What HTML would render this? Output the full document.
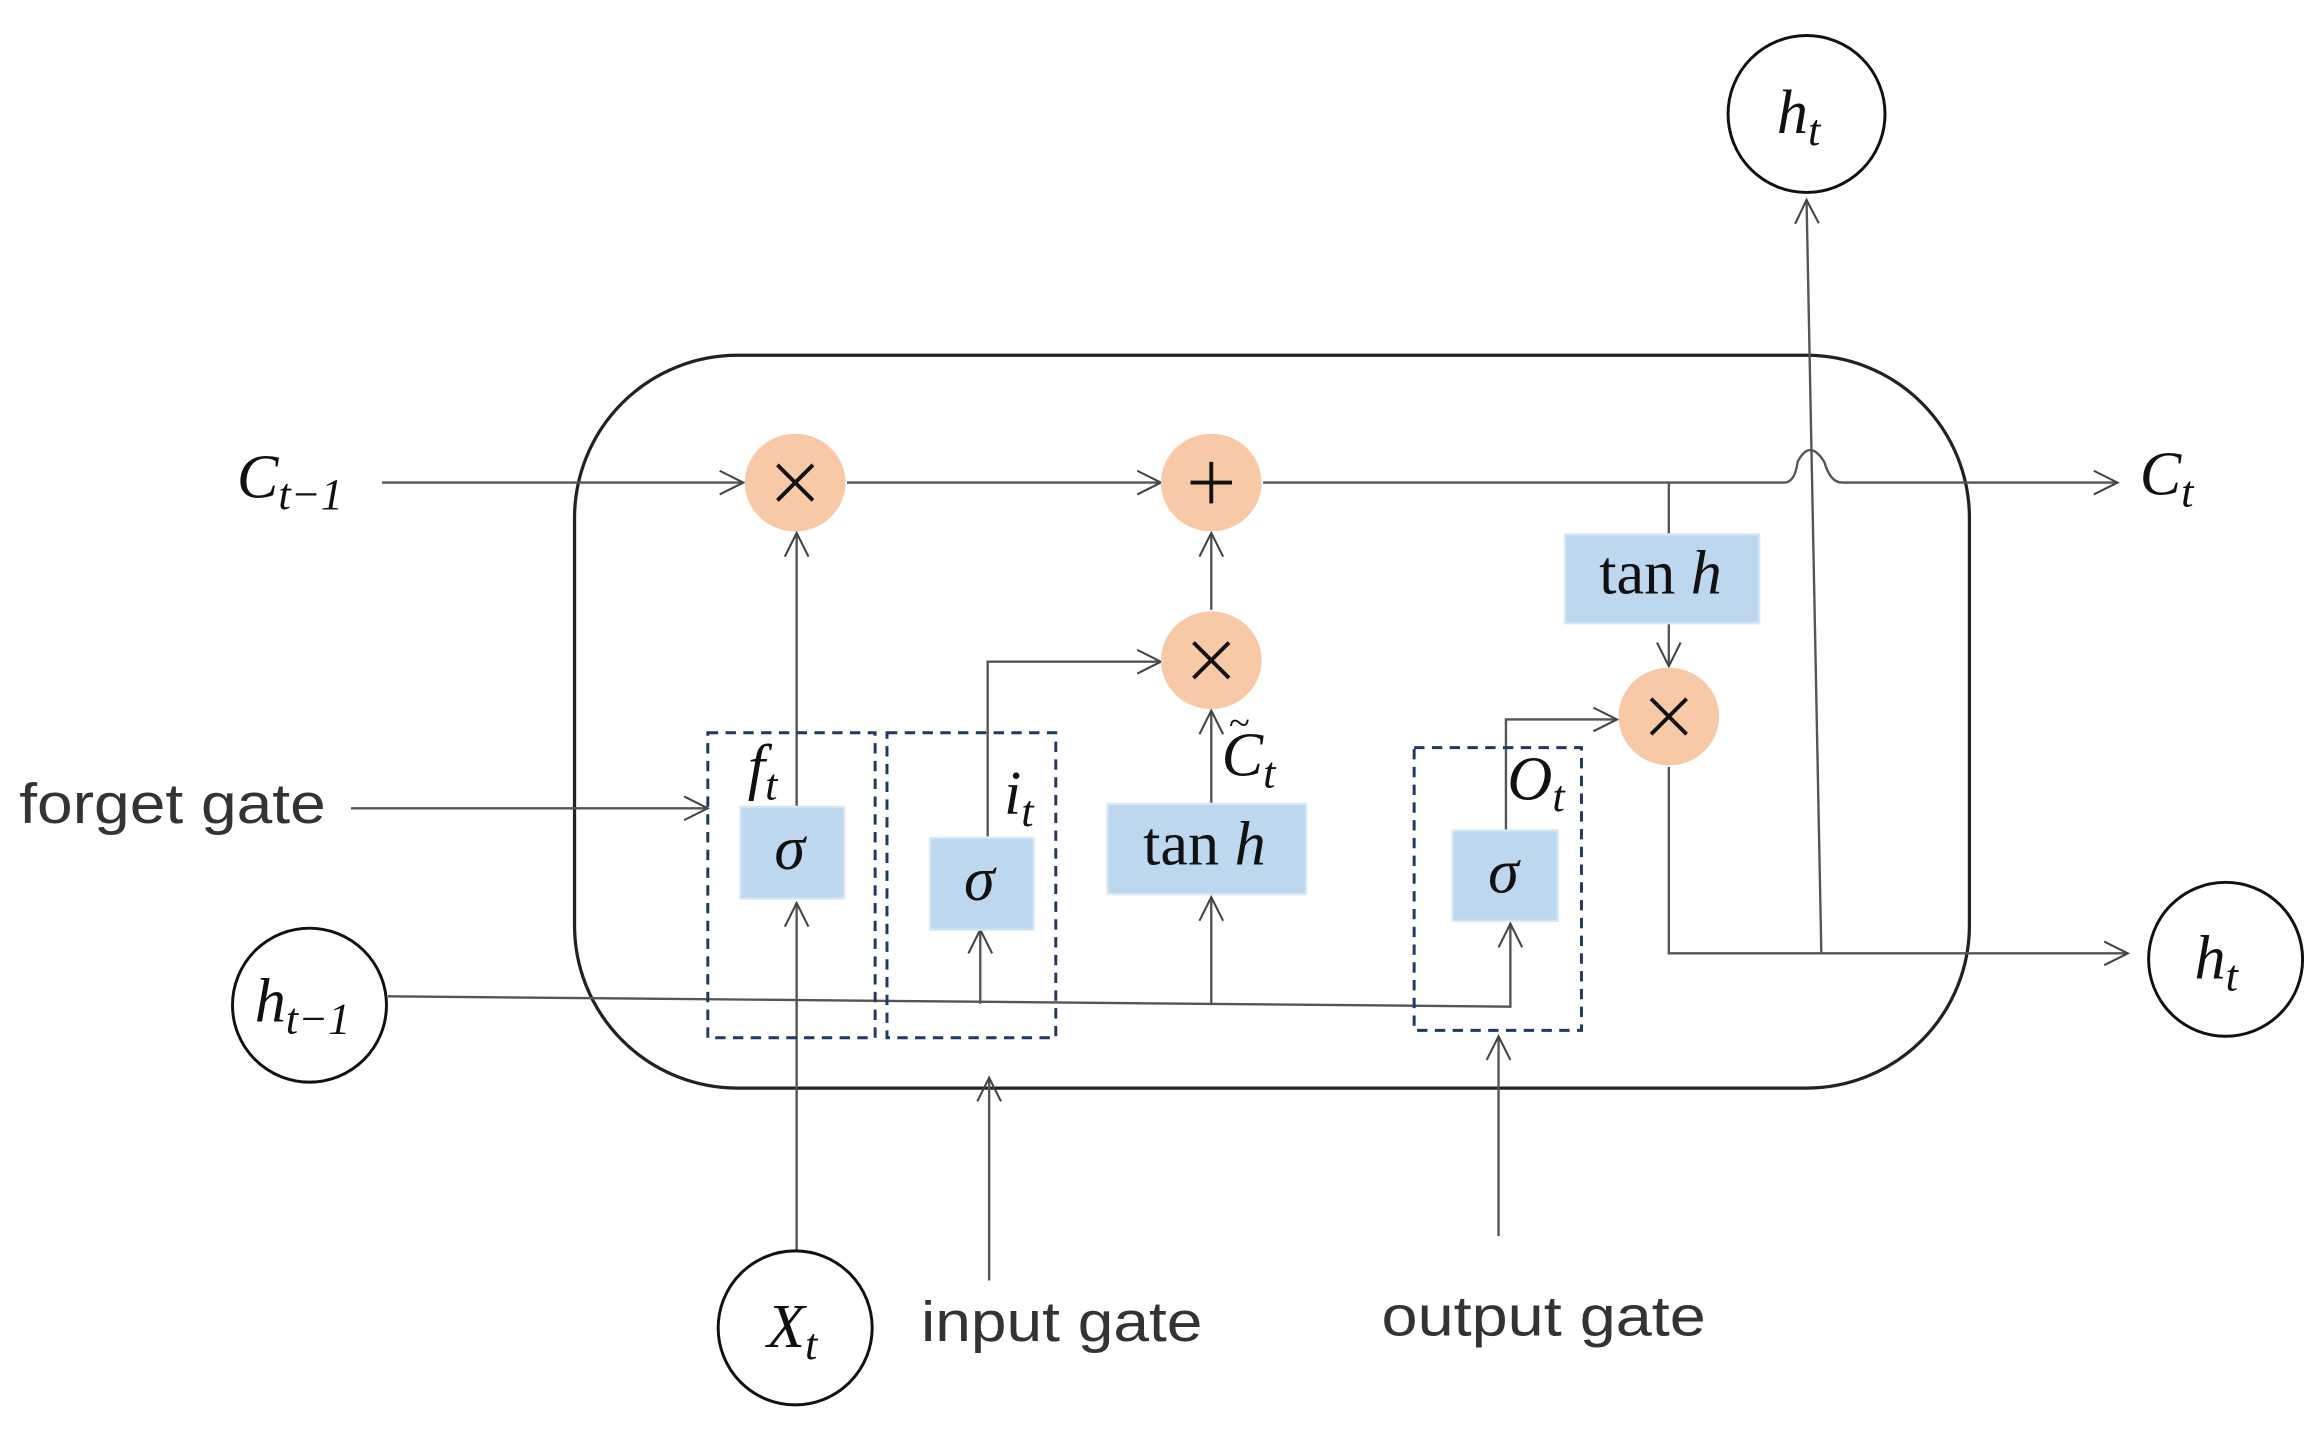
<!DOCTYPE html>
<html><head><meta charset="utf-8"><style>html,body{margin:0;padding:0;background:#fff}svg{display:block}</style></head>
<body>
<svg width="2310" height="1433" viewBox="0 0 1560 968" preserveAspectRatio="none" xmlns="http://www.w3.org/2000/svg">
<defs>
<marker id="a" viewBox="0 0 20 20" refX="18" refY="10" markerWidth="20" markerHeight="20" markerUnits="userSpaceOnUse" orient="auto">
<path d="M2,2 L18,10 L2,18" fill="none" stroke="#444" stroke-width="1.4"/>
</marker>
</defs>
<g fill="none" stroke="#555" stroke-width="1.6">
<rect x="388" y="240" width="942" height="495" rx="110" ry="110" stroke="#222" stroke-width="2.2"/>
<line x1="258" y1="326" x2="502" y2="326" marker-end="url(#a)"/>
<line x1="572" y1="326" x2="784" y2="326" marker-end="url(#a)"/>
<path d="M853,326 L1205,326 Q1212,326 1214,312 Q1222,296 1232,312 Q1236,326 1244,326 L1430,326" marker-end="url(#a)"/>
<line x1="1127" y1="326" x2="1127" y2="361"/>
<line x1="1127" y1="421" x2="1127" y2="450" marker-end="url(#a)"/>
<line x1="818" y1="412" x2="818" y2="360" marker-end="url(#a)"/>
<polyline points="667,565 667,447 784,447" marker-end="url(#a)"/>
<line x1="818" y1="543" x2="818" y2="480" marker-end="url(#a)"/>
<line x1="538" y1="545" x2="538" y2="360" marker-end="url(#a)"/>
<polyline points="1017,561 1017,486 1092,486" marker-end="url(#a)"/>
<polyline points="1127,518 1127,644 1437,644" marker-end="url(#a)"/>
<line x1="1230" y1="644" x2="1220" y2="135" marker-end="url(#a)"/>
<polyline points="262,673 1020,680 1020,624" marker-end="url(#a)"/>
<line x1="662" y1="678" x2="662" y2="628" marker-end="url(#a)"/>
<line x1="818" y1="679" x2="818" y2="606" marker-end="url(#a)"/>
<line x1="538" y1="845" x2="538" y2="610" marker-end="url(#a)"/>
<line x1="237" y1="546" x2="478" y2="546" marker-end="url(#a)"/>
<line x1="668" y1="865" x2="668" y2="728" marker-end="url(#a)"/>
<line x1="1012" y1="835" x2="1012" y2="700" marker-end="url(#a)"/>
</g>
<g fill="none" stroke="#1f3864" stroke-width="2" stroke-dasharray="7,5">
<rect x="478" y="495" width="113" height="206"/>
<rect x="599" y="495" width="114" height="206"/>
<rect x="955" y="505" width="113" height="191"/>
</g>
<g fill="#bdd7ee" stroke="#d6e6f4" stroke-width="1.5">
<rect x="500" y="545" width="70" height="62"/>
<rect x="628" y="566" width="70" height="62"/>
<rect x="981" y="561" width="71" height="61"/>
<rect x="748" y="543" width="134" height="61"/>
<rect x="1057" y="361" width="131" height="60"/>
</g>
<g fill="#f8c9a6">
<ellipse cx="537" cy="326" rx="34" ry="33"/>
<ellipse cx="818" cy="326" rx="34" ry="33"/>
<ellipse cx="818" cy="446" rx="34" ry="33"/>
<ellipse cx="1127" cy="484" rx="34" ry="33"/>
</g>
<g stroke="#111" stroke-width="2.6">
<path d="M525,314 L549,338 M549,314 L525,338"/>
<path d="M806,434 L830,458 M830,434 L806,458"/>
<path d="M1115,472 L1139,496 M1139,472 L1115,496"/>
<path d="M818,312 L818,340 M804,326 L832,326"/>
</g>
<g fill="#fff" stroke="#111" stroke-width="2">
<circle cx="1220" cy="77" r="53"/>
<circle cx="1503" cy="648" r="52"/>
<circle cx="209" cy="679" r="52"/>
<circle cx="537" cy="897" r="52"/>
</g>
<g font-family="Liberation Serif, serif" font-style="italic" fill="#111" font-size="42">
<text x="1200" y="90">h<tspan font-size="30" dy="8">t</tspan></text>
<text x="1482" y="661">h<tspan font-size="30" dy="8">t</tspan></text>
<text x="172" y="690">h<tspan font-size="30" dy="8">t−1</tspan></text>
<text x="518" y="910">X<tspan font-size="30" dy="8">t</tspan></text>
<text x="160" y="336">C<tspan font-size="30" dy="8">t−1</tspan></text>
<text x="1445" y="334">C<tspan font-size="30" dy="8">t</tspan></text>
<text x="505" y="532">f<tspan font-size="30" dy="8">t</tspan></text>
<text x="678" y="550">i<tspan font-size="30" dy="8">t</tspan></text>
<text x="1018" y="540">O<tspan font-size="30" dy="8">t</tspan></text>
<text x="825" y="524">C<tspan font-size="30" dy="8">t</tspan></text>
<text x="830" y="497" font-size="26" font-style="normal">~</text>
<text x="523" y="587">σ</text>
<text x="651" y="608">σ</text>
<text x="1005" y="603">σ</text>
<text x="772" y="584"><tspan font-style="normal">tan</tspan> h</text>
<text x="1080" y="401"><tspan font-style="normal">tan</tspan> h</text>
</g>
<g font-family="Liberation Sans, sans-serif" fill="#333" font-size="38">
<text x="13" y="556" textLength="207" lengthAdjust="spacingAndGlyphs">forget gate</text>
<text x="622" y="906" textLength="190" lengthAdjust="spacingAndGlyphs">input gate</text>
<text x="933" y="902" textLength="219" lengthAdjust="spacingAndGlyphs">output gate</text>
</g>
</svg>
</body></html>
